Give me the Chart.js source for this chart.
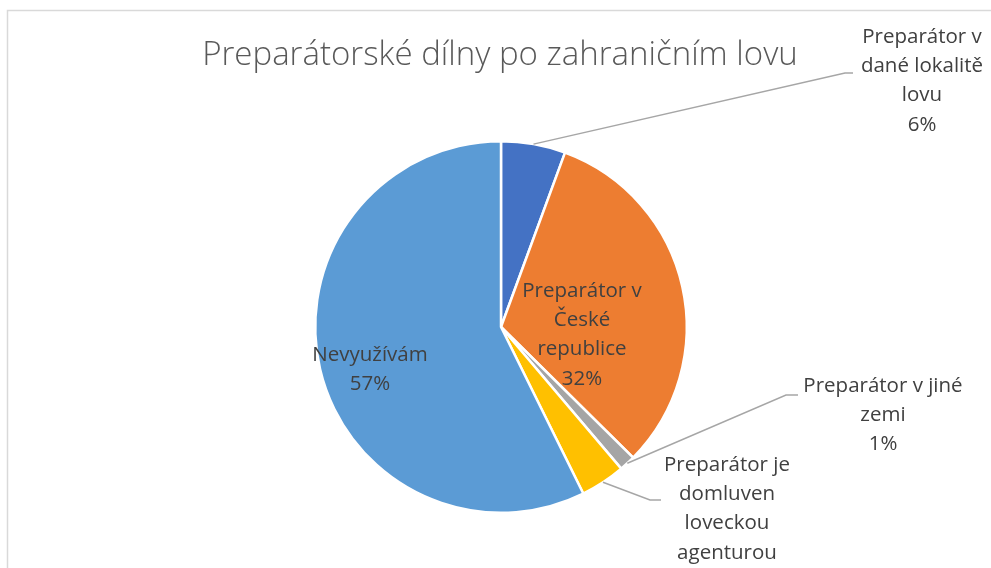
<!DOCTYPE html>
<html>
<head>
<meta charset="utf-8">
<script src="https://cdn.jsdelivr.net/npm/chart.js@4"></script>
<style>
    body { margin: 0; background: #ffffff; }
    #wrap { width: 991px; height: 568px; }
</style>
</head>
<body>
<div id="wrap"><canvas id="chartCanvas" width="991" height="568"></canvas></div>
<script>
// Chart data
const chartTitle = 'Preparátorské dílny po zahraničním lovu';
const categories = [
    'Preparátor v dané lokalitě lovu',
    'Preparátor v České republice',
    'Preparátor v jiné zemi',
    'Preparátor je domluven loveckou agenturou',
    'Nevyužívám'
];
const values = [5.6, 31.8, 1.4, 3.9, 57.3];
const sliceColors = ['#4472C4', '#ED7D31', '#A5A5A5', '#FFC000', '#5B9BD5'];

// how each label wraps in the picture
const labelLines = [
    ['Preparátor v', 'dané lokalitě', 'lovu'],
    ['Preparátor v', 'České', 'republice'],
    ['Preparátor v jiné', 'zemi'],
    ['Preparátor je', 'domluven', 'loveckou', 'agenturou'],
    ['Nevyužívám']
];

// label placement: text centre x, first line y, optional leader elbow/end
const labelPlaces = [
    { x: 922, y: 37, elbow: [845, 73], end: [853, 73] },
    { x: 582, y: 291 },
    { x: 883, y: 386, elbow: [786, 395], end: [798, 395] },
    { x: 727, y: 465, elbow: [650, 500], end: [661, 500] },
    { x: 370, y: 355 }
];

const FONT = '"Open Sans", "Liberation Sans", sans-serif';

const labelPlugin = {
    id: 'pieLabels',
    beforeDraw(chart) {
        const ctx = chart.ctx;
        ctx.save();
        ctx.fillStyle = '#ffffff';
        ctx.fillRect(0, 0, chart.width, chart.height);
        ctx.strokeStyle = '#D9D9D9';
        ctx.lineWidth = 1.5;
        ctx.strokeRect(7.5, 10.5, 1100, 700);
        ctx.restore();
    },
    afterDraw(chart) {
        const ctx = chart.ctx;
        const meta = chart.getDatasetMeta(0);
        const total = values.reduce((a, b) => a + b, 0);
        ctx.save();

        // title
        ctx.fillStyle = '#595959';
        ctx.font = '300 33px ' + FONT;
        ctx.textAlign = 'center';
        ctx.textBaseline = 'middle';
        ctx.fillText(chartTitle, 500, 56);

        meta.data.forEach((arc, i) => {
            const p = arc.getProps(['x', 'y', 'startAngle', 'endAngle', 'outerRadius'], true);
            const mid = (p.startAngle + p.endAngle) / 2;
            const place = labelPlaces[i];

            if (place.elbow) {
                ctx.strokeStyle = '#A6A6A6';
                ctx.lineWidth = 1.5;
                ctx.beginPath();
                ctx.moveTo(p.x + Math.cos(mid) * p.outerRadius, p.y + Math.sin(mid) * p.outerRadius);
                ctx.lineTo(place.elbow[0], place.elbow[1]);
                ctx.lineTo(place.end[0], place.end[1]);
                ctx.stroke();
            }

            const lines = labelLines[i].concat([Math.round(values[i] / total * 100) + '%']);
            ctx.fillStyle = '#404040';
            ctx.font = '20.5px ' + FONT;
            lines.forEach((t, k) => {
                ctx.fillText(t, place.x, place.y + k * 29.3);
            });
        });
        ctx.restore();
    }
};

const ctx = document.getElementById('chartCanvas').getContext('2d');

new Chart(ctx, {
    type: 'pie',
    data: {
        labels: categories,
        datasets: [{
            data: values,
            backgroundColor: sliceColors,
            borderColor: '#ffffff',
            borderWidth: 2.5
        }]
    },
    options: {
        responsive: false,
        animation: false,
        layout: {
            padding: { left: 314, right: 303, top: 140, bottom: 54 }
        },
        plugins: {
            legend: { display: false },
            title: { display: false },
            tooltip: { enabled: false }
        }
    },
    plugins: [labelPlugin]
});
</script>
</body>
</html>
